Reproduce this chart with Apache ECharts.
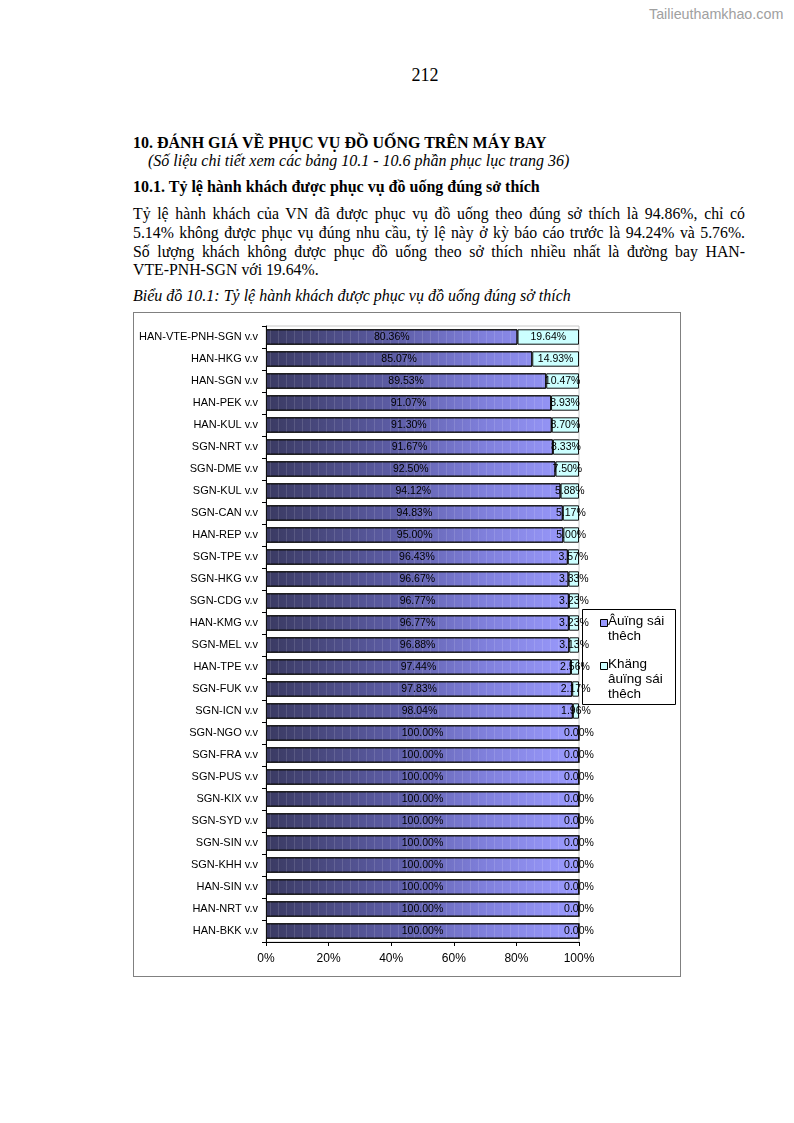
<!DOCTYPE html>
<html><head><meta charset="utf-8">
<script src="https://cdn.jsdelivr.net/npm/echarts@6/dist/echarts.min.js"></script>
<style>
body{margin:0;width:794px;height:1123px;background:#fff;position:relative;font-family:"Liberation Serif",serif;color:#000;}
.t{position:absolute;white-space:nowrap;line-height:19px;font-size:16px;}
.p{font-size:15.8px;}
.j{text-align:justify;text-align-last:justify;width:612px;}
#chart{position:absolute;left:133px;top:312px;width:546px;height:663px;border:1px solid #808080;}
</style></head><body>
<div class="t" style="left:649px;top:5px;font-family:'Liberation Sans',sans-serif;font-size:14.3px;color:#a0a0a0;">Tailieuthamkhao.com</div>
<div class="t" style="left:0;width:850px;text-align:center;top:64px;font-size:18px;line-height:22px;">212</div>
<div class="t" style="left:133px;top:133px;font-weight:bold;">10. ĐÁNH GIÁ VỀ PHỤC VỤ ĐỒ UỐNG TRÊN MÁY BAY</div>
<div class="t" style="left:148px;top:151px;font-style:italic;">(Số liệu chi tiết xem các bảng 10.1 - 10.6 phần phục lục trang 36)</div>
<div class="t" style="left:133px;top:177px;font-weight:bold;">10.1. Tỷ lệ hành khách được phục vụ đồ uống đúng sở thích</div>
<div class="t p j" style="left:133px;top:204px;">Tỷ lệ hành khách của VN đã được phục vụ đồ uống theo đúng sở thích là 94.86%, chỉ có</div>
<div class="t p j" style="left:133px;top:223px;">5.14% không được phục vụ đúng nhu cầu, tỷ lệ này ở kỳ báo cáo trước là 94.24% và 5.76%.</div>
<div class="t p j" style="left:133px;top:242px;">Số lượng khách không được phục đồ uống theo sở thích nhiều nhất là đường bay HAN-</div>
<div class="t p" style="left:133px;top:260px;">VTE-PNH-SGN với 19.64%.</div>
<div class="t" style="left:133px;top:286px;font-style:italic;">Biểu đồ 10.1: Tỷ lệ hành khách được phục vụ đồ uống đúng sở thích</div>
<div id="chart"></div>
<script>
const categories = ["HAN-VTE-PNH-SGN v.v","HAN-HKG v.v","HAN-SGN v.v","HAN-PEK v.v","HAN-KUL v.v","SGN-NRT v.v","SGN-DME v.v","SGN-KUL v.v","SGN-CAN v.v","HAN-REP v.v","SGN-TPE v.v","SGN-HKG v.v","SGN-CDG v.v","HAN-KMG v.v","SGN-MEL v.v","HAN-TPE v.v","SGN-FUK v.v","SGN-ICN v.v","SGN-NGO v.v","SGN-FRA v.v","SGN-PUS v.v","SGN-KIX v.v","SGN-SYD v.v","SGN-SIN v.v","SGN-KHH v.v","HAN-SIN v.v","HAN-NRT v.v","HAN-BKK v.v"];
const correct = [80.36,85.07,89.53,91.07,91.30,91.67,92.50,94.12,94.83,95.00,96.43,96.67,96.77,96.77,96.88,97.44,97.83,98.04,100,100,100,100,100,100,100,100,100,100];
const notCorrect = [19.64,14.93,10.47,8.93,8.70,8.33,7.50,5.88,5.17,5.00,3.57,3.33,3.23,3.23,3.13,2.56,2.17,1.96,0,0,0,0,0,0,0,0,0,0];
const seriesNames = ["Âuïng sái\nthêch","Khäng\nâuïng sái\nthêch"];

const chart = echarts.init(document.getElementById('chart'));
const gl = 132, gr = 101, gt = 13, gb = 34;
const W = 546;
const grad = new echarts.graphic.LinearGradient(gl, 0, W - gr, 0, [
  {offset:0, color:'#3a3a62'},{offset:0.4, color:'#5c5ca4'},{offset:0.7, color:'#8080dc'},{offset:1, color:'#9c9cff'}], true);
const lblFont = {fontFamily:'Liberation Sans', fontSize:10.5, color:'#000'};
chart.setOption({
  animation:false,
  grid:{left:gl, right:gr, top:gt, bottom:gb, show:true, borderColor:'#c8c8c8', borderWidth:1},
  xAxis:{type:'value', min:0, max:100, interval:20,
    axisLine:{show:true, lineStyle:{color:'#000'}},
    axisTick:{show:true, length:4, lineStyle:{color:'#000'}},
    splitLine:{show:false},
    axisLabel:{formatter:v=>v+'%', fontFamily:'Liberation Sans', fontSize:12, color:'#000', margin:11}},
  yAxis:{type:'category', data:categories, inverse:true,
    axisLine:{show:true, lineStyle:{color:'#000'}},
    axisTick:{show:true, length:4, lineStyle:{color:'#000'}},
    axisLabel:{fontFamily:'Liberation Sans', fontSize:11, color:'#000', margin:8}},
  series:[
    {name:seriesNames[0], type:'bar', stack:'a', data:correct, barWidth:'70%',
     itemStyle:{color:grad, borderColor:'#111', borderWidth:1,
       decal:{symbol:'rect', symbolSize:1, dashArrayX:[1,7], dashArrayY:[4,0], color:'rgba(255,255,255,0.13)'}},
     label:{show:true, position:'inside', formatter:p=>p.value.toFixed(2)+'%', ...lblFont}},
    {name:seriesNames[1], type:'bar', stack:'a', data:notCorrect, barWidth:'70%',
     itemStyle:{color:'#ccffff', borderColor:'#111', borderWidth:1},
     label:{show:true, position:'inside', formatter:p=>p.value.toFixed(2)+'%', ...lblFont}}
  ],
  graphic:[
    {type:'rect', left:448, top:296, shape:{width:93, height:95}, style:{fill:'#fff', stroke:'#000', lineWidth:1}},
    {type:'rect', left:466, top:306, shape:{width:7, height:7}, style:{fill:'#9999ff', stroke:'#000', lineWidth:1}},
    {type:'text', left:474, top:301, style:{text:seriesNames[0], font:'13.5px "Liberation Sans"', fill:'#000', lineHeight:15}},
    {type:'rect', left:466, top:349, shape:{width:7, height:7}, style:{fill:'#ccffff', stroke:'#000', lineWidth:1}},
    {type:'text', left:474, top:344, style:{text:seriesNames[1], font:'13.5px "Liberation Sans"', fill:'#000', lineHeight:15}}
  ]
});
</script>
</body></html>
